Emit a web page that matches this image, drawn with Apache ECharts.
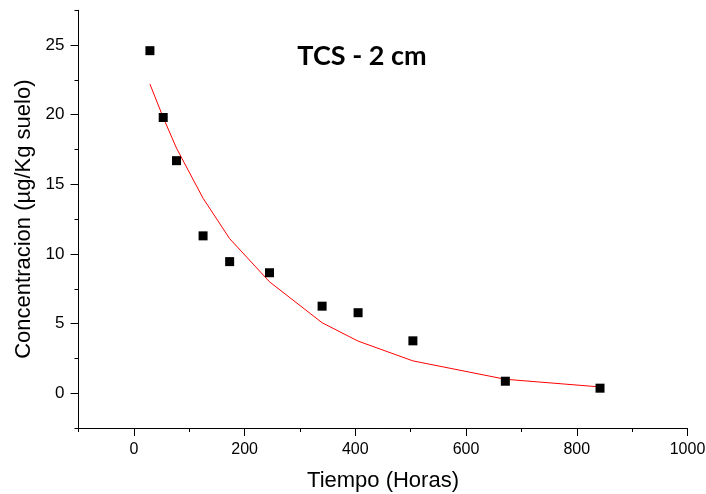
<!DOCTYPE html>
<html>
<head>
<meta charset="utf-8">
<script src="https://cdn.jsdelivr.net/npm/echarts@6/dist/echarts.min.js"></script>
<style>
  html, body { margin: 0; padding: 0; background: #fff; }
  #chart { width: 706px; height: 494px; }
</style>
</head>
<body>
<div id="chart"></div>
<script>
// datos
var horas = [29, 53, 77, 125, 173, 245, 340, 405, 504, 671, 842];
var medido = [24.6, 19.8, 16.7, 11.3, 9.45, 8.65, 6.25, 5.78, 3.76, 0.86, 0.36];
var ajuste = [22.2, 19.8, 17.6, 14.0, 11.1, 8.0, 5.06, 3.74, 2.32, 1.0, 0.45];
var xMajor = [0, 200, 400, 600, 800, 1000];
var xMinor = [-100, 100, 300, 500, 700, 900];
var yMajor = [0, 5, 10, 15, 20, 25];
var yMinor = [-2.5, 2.5, 7.5, 12.5, 17.5, 22.5, 27.5];

var chart = echarts.init(document.getElementById('chart'), null, { renderer: 'canvas' });
var font = 'Liberation Sans, Arial, sans-serif';
var axisLine = { show: true, onZero: false, lineStyle: { color: '#000', width: 1 } };
var plain = function (v) { return String(v); };

var option = {
    animation: false,
    grid: { left: 78.5, right: 18.5, top: 10.3, bottom: 66, outerBoundsMode: 'none' },
    graphic: [{
        type: 'text',
        x: 362, y: 56,
        style: {
            text: 'TCS - 2 cm',
            font: 'bold 27px Lato, sans-serif',
            fill: '#000',
            align: 'center',
            verticalAlign: 'middle'
        }
    }],
    xAxis: [{
        type: 'value', min: -100, max: 1000, position: 'bottom',
        name: 'Tiempo (Horas)', nameLocation: 'middle', nameGap: 42,
        nameTextStyle: { fontFamily: font, fontSize: 22, color: '#000' },
        axisLine: axisLine,
        axisTick: { show: true, customValues: xMajor, length: 8, lineStyle: { color: '#000' } },
        axisLabel: { customValues: xMajor, formatter: plain, margin: 14, fontFamily: font, fontSize: 16, color: '#000' },
        splitLine: { show: false }
    }, {
        type: 'value', min: -100, max: 1000, position: 'bottom',
        axisLine: { show: false, onZero: false },
        axisTick: { show: true, customValues: xMinor, length: 4, lineStyle: { color: '#000' } },
        axisLabel: { show: false },
        splitLine: { show: false }
    }],
    yAxis: [{
        type: 'value', min: -2.5, max: 27.5, position: 'left',
        name: 'Concentracion (µg/Kg suelo)', nameLocation: 'middle', nameGap: 44,
        nameTextStyle: { fontFamily: font, fontSize: 22, color: '#000' },
        axisLine: axisLine,
        axisTick: { show: true, customValues: yMajor, length: 8, lineStyle: { color: '#000' } },
        axisLabel: { customValues: yMajor, formatter: plain, margin: 14, fontFamily: font, fontSize: 17, color: '#000' },
        splitLine: { show: false }
    }, {
        type: 'value', min: -2.5, max: 27.5, position: 'left',
        axisLine: { show: false, onZero: false },
        axisTick: { show: true, customValues: yMinor, length: 4, lineStyle: { color: '#000' } },
        axisLabel: { show: false },
        splitLine: { show: false }
    }],
    series: [{
        type: 'line',
        xAxisIndex: 0, yAxisIndex: 0,
        data: horas.map(function (h, i) { return [h, ajuste[i]]; }),
        showSymbol: false,
        lineStyle: { color: '#ff0000', width: 1 },
        z: 2
    }, {
        type: 'scatter',
        xAxisIndex: 0, yAxisIndex: 0,
        data: horas.map(function (h, i) { return [h, medido[i]]; }),
        symbol: 'rect',
        symbolSize: 9,
        itemStyle: { color: '#000', opacity: 1 },
        z: 3
    }]
};
chart.setOption(option);
</script>
</body>
</html>
